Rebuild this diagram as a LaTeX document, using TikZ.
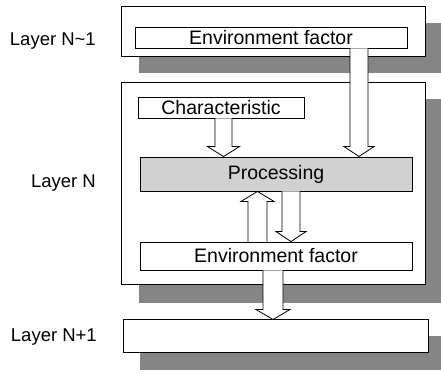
\documentclass[tikz,border=0pt]{standalone}
\usepackage{fontspec}
\setmainfont{Liberation Sans}
\usetikzlibrary{calc}
\tikzset{
  layerbox/.style={draw=black,line width=1pt,fill=white},
  shadowbox/.style={fill=black!48,draw=none},
  innerbox/.style={draw=black,line width=0.9pt,fill=white,inner sep=0pt,font=\fontsize{19.5}{21}\selectfont},
  procbox/.style={draw=black,line width=0.9pt,fill=black!18,inner sep=0pt,font=\fontsize{19.5}{21}\selectfont},
  layerlabel/.style={anchor=east,inner sep=0pt,font=\fontsize{18.5}{21}\selectfont},
  arrowst/.style={draw=black,line width=0.8pt,fill=white,line join=miter}
}
\newcommand{\blkdown}[5]{%
  \draw[arrowst] let \p1=(#2), \p2=(#3) in
    (#1pt-#4pt,\y1) -- (#1pt-#4pt,\y2+10pt) -- (#1pt-#5pt,\y2+10pt) -- (#1pt,\y2)
    -- (#1pt+#5pt,\y2+10pt) -- (#1pt+#4pt,\y2+10pt) -- (#1pt+#4pt,\y1);}
\newcommand{\blkup}[5]{%
  \draw[arrowst] let \p1=(#2), \p2=(#3) in
    (#1pt-#4pt,\y1) -- (#1pt-#4pt,\y2-10pt) -- (#1pt-#5pt,\y2-10pt) -- (#1pt,\y2)
    -- (#1pt+#5pt,\y2-10pt) -- (#1pt+#4pt,\y2-10pt) -- (#1pt+#4pt,\y1);}
\begin{document}
\begin{tikzpicture}[x=1pt,y=1pt]
\useasboundingbox (0,0) rectangle (441,374);
% shadows
\fill[shadowbox] (139,301) rectangle (441,351);
\fill[shadowbox] (139,71) rectangle (441,275);
\fill[shadowbox] (140,4) rectangle (441,38);
% layer boxes
\draw[layerbox] (121,317) rectangle (425,367);
\draw[layerbox] (121,89) rectangle (425,291);
\node[layerbox,minimum width=305pt,minimum height=33pt,inner sep=0pt] (l3) at (275.5,37.5) {};
% inner nodes
\node[innerbox,minimum width=272pt,minimum height=21pt] (env1) at (271,336.5) {Environment factor};
\node[innerbox,minimum width=166pt,minimum height=21pt] (char) at (221,266.5) {Characteristic};
\node[procbox,minimum width=272pt,minimum height=34pt] (proc) at (276,200) {Processing};
\node[innerbox,minimum width=272pt,minimum height=28pt] (env2) at (276,118) {Environment factor};
% labels
\node[layerlabel] (lab1) at (96,333) {Layer N\textasciitilde 1};
\node[layerlabel] (lab2) at (96,191) {Layer N};
\node[layerlabel] (lab3) at (97,37) {Layer N+1};
% arrows
\blkdown{359}{env1.south}{proc.north}{9}{15}
\blkdown{223.5}{char.south}{proc.north}{8.5}{16}
\blkup{257.5}{env2.north}{proc.south}{9.5}{16.5}
\blkdown{291}{proc.south}{env2.north}{9}{15}
\blkdown{273}{env2.south}{l3.north}{10}{17}
\end{tikzpicture}
\end{document}
